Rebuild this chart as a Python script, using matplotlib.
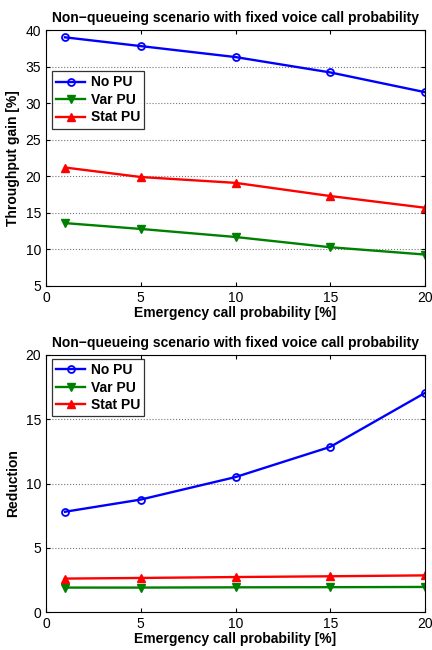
import numpy as np
import matplotlib
matplotlib.use("Agg")
import matplotlib.pyplot as plt

plt.rcParams['font.family'] = ['Liberation Sans', 'DejaVu Sans']

x = [1, 5, 10, 15, 20]

# throughput gain [%]
gain_no_pu = [39.0, 37.8, 36.3, 34.2, 31.5]
gain_var_pu = [13.6, 12.8, 11.7, 10.3, 9.3]
gain_stat_pu = [21.2, 19.9, 19.1, 17.3, 15.7]

# reduction
red_no_pu = [7.8, 8.75, 10.5, 12.85, 17.05]
red_var_pu = [1.9, 1.9, 1.92, 1.93, 1.95]
red_stat_pu = [2.6, 2.65, 2.72, 2.78, 2.85]

title = "Non\u2212queueing scenario with fixed voice call probability"
xlabel = "Emergency call probability [%]"


def draw(ax, no_pu, var_pu, stat_pu, ylim, yticks, ylabel):
    ax.plot(x, no_pu, color="blue", marker="o", ms=5, mfc="none", mew=1.3, lw=1.7, label="No PU")
    ax.plot(x, var_pu, color="green", marker="v", ms=6, lw=1.7, label="Var PU")
    ax.plot(x, stat_pu, color="red", marker="^", ms=6, lw=1.7, label="Stat PU")
    ax.set_xlim(0, 20)
    ax.set_ylim(*ylim)
    ax.set_xticks([0, 5, 10, 15, 20])
    ax.set_yticks(yticks)
    ax.grid(axis="y", linestyle=":", color="#777777", lw=0.8)
    ax.tick_params(direction="in", labelsize=10, length=3, top=True, right=True)
    ax.set_title(title, fontsize=10, fontweight="bold")
    ax.set_xlabel(xlabel, fontsize=10, fontweight="bold", labelpad=1)
    ax.set_ylabel(ylabel, fontsize=10, fontweight="bold")
    for s in ax.spines.values():
        s.set_linewidth(0.8)
    return ax


def add_legend(ax, top):
    leg = ax.legend(loc="upper left", bbox_to_anchor=(0.005, top), fancybox=False, edgecolor="black",
                    prop={"weight": "bold", "size": 10}, handlelength=2.1, handletextpad=0.4,
                    borderpad=0.3, labelspacing=0.25, borderaxespad=0.3)
    leg.get_frame().set_linewidth(0.9)


fig = plt.figure(figsize=(4.32, 6.5), dpi=100)
ax1 = fig.add_axes([46 / 432, 1 - 286 / 650, 379 / 432, 256 / 650])
ax2 = fig.add_axes([46 / 432, 1 - 612 / 650, 379 / 432, 257 / 650])

draw(ax1, gain_no_pu, gain_var_pu, gain_stat_pu, (5, 40), range(5, 41, 5), "Throughput gain [%]")
add_legend(ax1, 0.855)

draw(ax2, red_no_pu, red_var_pu, red_stat_pu, (0, 20), range(0, 21, 5), "Reduction")
add_legend(ax2, 1.0)

fig.savefig("out.png", dpi=100)
